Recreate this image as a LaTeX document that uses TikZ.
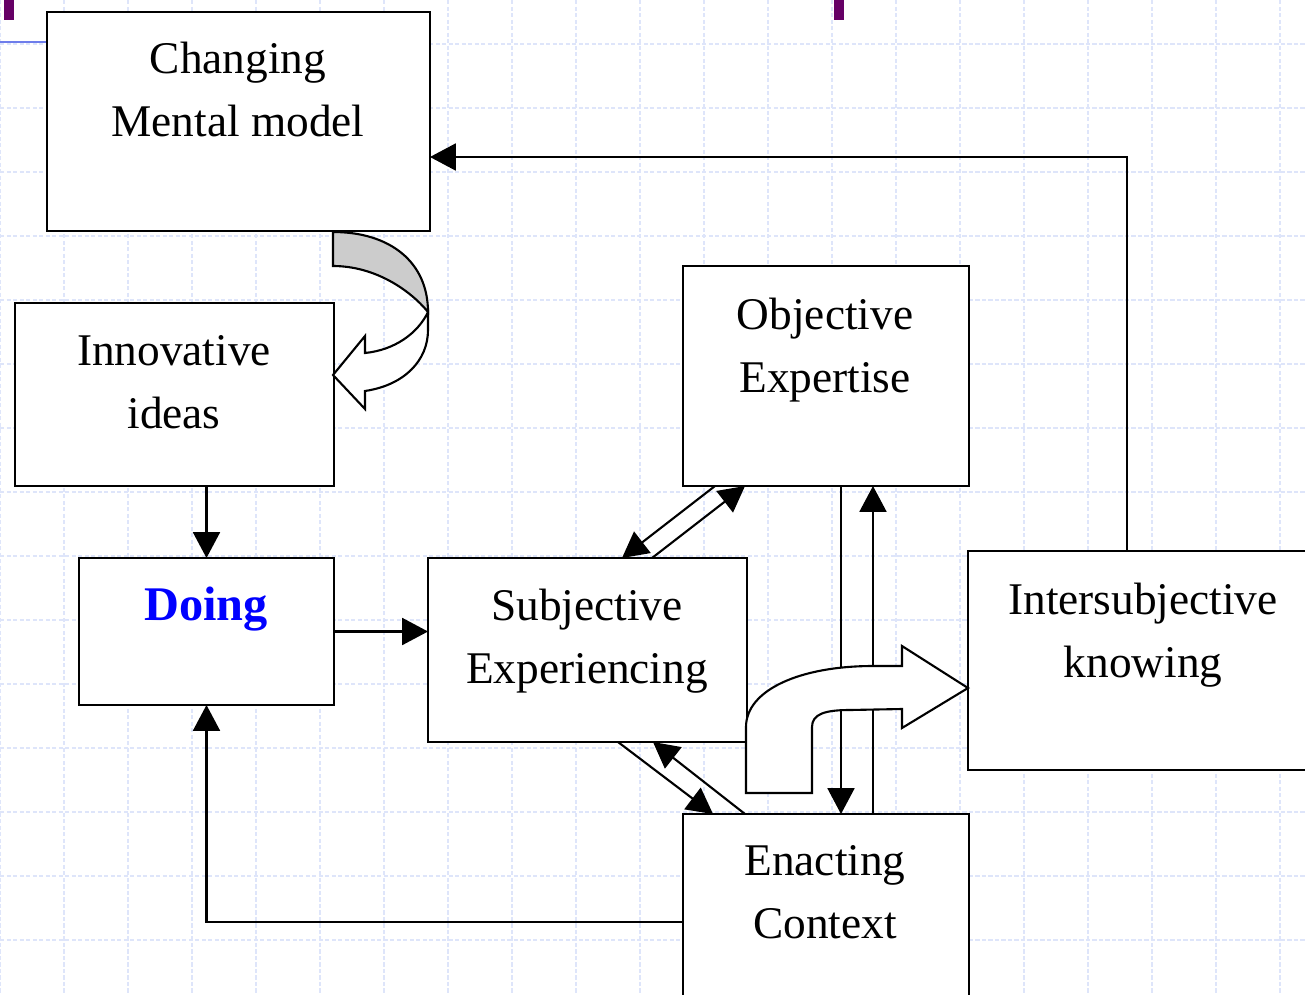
\documentclass[tikz,border=0pt]{standalone}
\usepackage{fontspec}
\setmainfont{Liberation Serif}
\usepackage{xcolor}
\usetikzlibrary{arrows.meta}
\definecolor{gridblue}{RGB}{222,229,250}
\definecolor{barblue}{RGB}{110,125,235}
\definecolor{plum}{RGB}{102,0,102}
\definecolor{shade}{RGB}{204,204,204}
\tikzset{
  box/.style={draw, fill=white, line width=1.6pt, inner sep=0pt, outer sep=0pt},
  lbl/.style={font=\fontsize{25.8}{35.7}\selectfont, align=center, inner sep=0pt, anchor=base},
  con/.style={line width=1.2pt, -{Triangle[length=14.7pt,width=15.3pt]}},
  blockarrow/.style={draw, line width=1.2pt, line join=miter}
}
\begin{document}
\begin{tikzpicture}[x=0.02cm,y=-0.02cm]
    \path[use as bounding box, clip] (0,0) rectangle (1305,994);
    \foreach \x in {0,64,...,1280} {
        \draw[gridblue, line width=0.8pt, dash pattern=on 2.5pt off 1.2pt] (\x,0) -- (\x,994);
    }
    \foreach \y in {44,108,...,940} {
        \draw[gridblue, line width=0.8pt, dash pattern=on 2.5pt off 1.2pt] (0,\y) -- (1305,\y);
    }
    \fill[plum] (4,0) rectangle (14,20);
    \fill[plum] (834,0) rectangle (844,20);
    \draw[barblue, line width=1.1pt] (0,42) -- (47,42);

    \node[box, minimum width=7.66cm, minimum height=4.38cm] (cmm) at (238.5,121.5) {};
    \node[lbl] (cmmtxt) at (238,136) {Changing\\Mental model};
    \node[box, minimum width=6.38cm, minimum height=3.66cm] (inn) at (174.5,394.5) {};
    \node[lbl] (inntxt) at (174,428) {Innovative\\ideas};
    \node[box, minimum width=5.10cm, minimum height=2.94cm] (doing) at (206.5,631.5) {};
    \node[lbl, font=\fontsize{27.5}{35}\selectfont\bfseries, text=blue] (doingtxt) at (206,620) {Doing};
    \node[box, minimum width=6.38cm, minimum height=3.68cm] (subj) at (587.5,650) {};
    \node[lbl] (subjtxt) at (587,683) {Subjective\\Experiencing};
    \node[box, minimum width=5.72cm, minimum height=4.40cm] (obj) at (826,376) {};
    \node[lbl] (objtxt) at (825,392) {Objective\\Expertise};
    \node[box, minimum width=7.44cm, minimum height=4.38cm] (inter) at (1154,660.5) {};
    \node[lbl] (intertxt) at (1143,677) {Intersubjective\\knowing};
    \node[box, minimum width=5.72cm, minimum height=4.32cm] (enact) at (826,922) {};
    \node[lbl] (enacttxt) at (825,938) {Enacting\\Context};

    \draw[con] ([xshift=-0.54cm]inter.north) |- ([yshift=-0.71cm]cmm.east);
    \draw[con] (doing.north |- inn.south) -- (doing.north);
    \draw[con] (doing.east) -- (doing.east -| subj.west);
    \draw[con] (enact.west) -| (doing.south);
    \draw[con] ([xshift=-2.22cm]obj.south) -- ([xshift=0.69cm]subj.north);
    \draw[con] ([xshift=1.29cm]subj.north) -- ([xshift=-1.62cm]obj.south);
    \draw[con] ([xshift=0.61cm]subj.south) -- ([xshift=-2.26cm]enact.north);
    \draw[con] ([xshift=-1.62cm]enact.north) -- ([xshift=1.31cm]subj.south);
    \draw[con] ([xshift=0.3cm]obj.south) -- ([xshift=0.3cm]enact.north);
    \draw[con] ([xshift=0.94cm]enact.north) -- ([xshift=0.94cm]obj.south);

    \filldraw[blockarrow, fill=shade] (333,232) .. controls (390,232) and (428,262) .. (428,312)
        .. controls (410,290) and (375,266) .. (333,266) -- cycle;
    \filldraw[blockarrow, fill=white] (428,312) .. controls (418,333) and (395,350) .. (365,353)
        -- (365,336) -- (333,375) -- (365,409) -- (365,391)
        .. controls (405,385) and (428,360) .. (428,330) -- cycle;
    \filldraw[blockarrow, fill=white] (746,793) -- (812,793) -- (812,727)
        .. controls (812,714) and (825,710) .. (850,710) -- (902,709) -- (902,728)
        -- (968,688) -- (902,646) -- (902,666) -- (873,666)
        .. controls (800,666) and (746,690) .. (746,727) -- cycle;
\end{tikzpicture}
\end{document}
